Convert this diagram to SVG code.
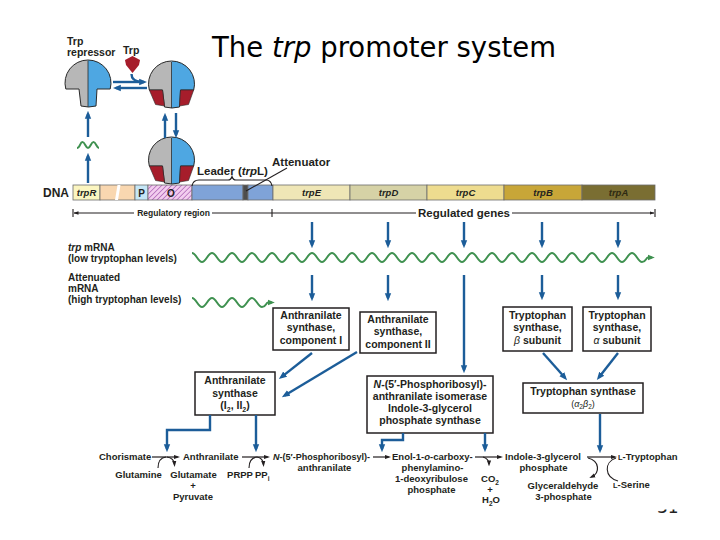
<svg xmlns="http://www.w3.org/2000/svg" width="720" height="540" viewBox="0 0 720 540">
<style>
.t{font-family:"Liberation Sans",Arial,sans-serif;font-weight:bold;fill:#231f20}
.n{font-weight:normal}
.i{font-style:italic}
.c{text-anchor:middle}
.box{fill:#fff;stroke:#231f20;stroke-width:1.5}
.ba{stroke:#1c5d99;stroke-width:2.4;fill:none;marker-end:url(#ab)}
.bl{stroke:#1c5d99;stroke-width:2.4;fill:none}
.ka{stroke:#231f20;stroke-width:1.2;fill:none;marker-end:url(#ak)}
.kl{stroke:#231f20;stroke-width:1.1;fill:none}
.gr{stroke:#3f9150;stroke-width:2;fill:none}
.seg{stroke:#6b6b6b;stroke-width:0.8}
</style>
<defs>
<marker id="ab" viewBox="0 0 10 10" refX="6" refY="5" markerWidth="8" markerHeight="8" markerUnits="userSpaceOnUse" orient="auto"><path d="M0,1 L10,5 L0,9 Z" fill="#1c5d99"/></marker>
<marker id="ak" viewBox="0 0 10 10" refX="6" refY="5" markerWidth="6" markerHeight="6" markerUnits="userSpaceOnUse" orient="auto"><path d="M0,1.5 L10,5 L0,8.5 Z" fill="#231f20"/></marker>
<marker id="ag" viewBox="0 0 10 10" refX="6" refY="5" markerWidth="7" markerHeight="7" markerUnits="userSpaceOnUse" orient="auto"><path d="M0,1 L10,5 L0,9 Z" fill="#3f9150"/></marker>
<marker id="as" viewBox="0 0 10 10" refX="9" refY="5" markerWidth="5" markerHeight="5" markerUnits="userSpaceOnUse" orient="auto"><path d="M0,1.5 L10,5 L0,8.5 Z" fill="#231f20"/></marker>
<pattern id="hatch" width="3.5" height="3.5" patternUnits="userSpaceOnUse" patternTransform="rotate(45)"><rect width="3.5" height="3.5" fill="#f3cdef"/><line x1="0" y1="0" x2="0" y2="3.5" stroke="#9b4aa8" stroke-width="1.2"/></pattern>
<clipPath id="rc"><path d="M-22.2,5 A23,23 0 1 1 22.2,5 L9,5 L8,22 Q0.5,24 -7,22 L-9,5 Z"/></clipPath>
<g id="rep">
<g clip-path="url(#rc)"><rect x="-25" y="-25" width="25" height="50" fill="#b7b7b7"/><rect x="0" y="-25" width="25" height="50" fill="#4ea7e2"/></g>
<line x1="0" y1="-23" x2="0" y2="23" stroke="#2a2a2a" stroke-width="0.8"/>
<path d="M-22.2,5 A23,23 0 1 1 22.2,5 L9,5 L8,22 Q0.5,24 -7,22 L-9,5 Z" fill="none" stroke="#2a2a2a" stroke-width="1"/>
</g>
<g id="repB">
<use href="#rep"/>
<path d="M-22.2,5 L-9,5 L-7,21 L-16,19.5 Z" fill="#a61d2b" stroke="#2a2a2a" stroke-width="0.6"/>
<path d="M9,5 L22.2,5 L17,19.5 L8,21 Z" fill="#a61d2b" stroke="#2a2a2a" stroke-width="0.6"/>
</g>
</defs>
<rect width="720" height="540" fill="#fff"/>
<text x="657" y="513" font-family="DejaVu Sans, sans-serif" font-size="17" fill="#222">31</text>
<rect x="640" y="488" width="60" height="21.5" fill="#fff"/>

<text id="title" x="212" y="57" font-family="DejaVu Sans, sans-serif" font-size="27.5" fill="#000">The <tspan font-style="italic">trp</tspan> promoter system</text>

<g id="dna">
<rect x="73" y="185" width="27" height="15" fill="#fbf5c0" class="seg"/>
<rect x="100" y="185" width="35" height="15" fill="#f9d7b0" class="seg"/>
<polygon points="115,200 117.5,185 120.5,185 118,200" fill="#fff"/>
<rect x="135" y="185" width="13" height="15" fill="#c5e6f6" class="seg"/>
<rect x="148" y="185" width="44" height="15" fill="url(#hatch)" class="seg"/>
<rect x="192" y="185" width="51" height="15" fill="#7fa3d8" class="seg"/>
<rect x="243" y="185" width="5" height="15" fill="#4d4d4d" class="seg"/>
<rect x="248" y="185" width="25" height="15" fill="#7fa3d8" class="seg"/>
<rect x="273" y="185" width="77" height="15" fill="#efe6b6" class="seg"/>
<rect x="350" y="185" width="77" height="15" fill="#d6d2a6" class="seg"/>
<rect x="427" y="185" width="77" height="15" fill="#eedc8f" class="seg"/>
<rect x="504" y="185" width="78" height="15" fill="#c8a638" class="seg"/>
<rect x="582" y="185" width="73" height="15" fill="#7a6e32" class="seg"/>
<text class="t" x="43" y="197" font-size="12">DNA</text>
<text class="t i c" x="86.5" y="196" font-size="9.5">trpR</text>
<text class="t c" x="141.5" y="196.5" font-size="10">P</text>
<text class="t c" x="171" y="197" font-size="10">O</text>
<text class="t i c" x="311.5" y="196" font-size="9.5">trpE</text>
<text class="t i c" x="388.5" y="196" font-size="9.5">trpD</text>
<text class="t i c" x="465.5" y="196" font-size="9.5">trpC</text>
<text class="t i c" x="543" y="196" font-size="9.5">trpB</text>
<text class="t i c" x="618.5" y="196" font-size="9.5" style="fill:#2e2a12">trpA</text>
<path d="M192,186 Q193,180 199,180 L228,180 Q231,180 232,176.5 Q233,180 236,180 L266,180 Q271,180 272,186" class="kl"/>
<text class="t" x="197" y="175" font-size="11.5">Leader (<tspan class="i">trp</tspan>L)</text>
<line x1="246" y1="191" x2="287" y2="168" class="kl"/>
<text class="t" x="272" y="166" font-size="11.5">Attenuator</text>
</g>

<g id="regions">
<line x1="134" y1="213" x2="74" y2="213" class="kl" marker-end="url(#as)"/>
<line x1="212" y1="213" x2="416" y2="213" class="kl"/>
<line x1="512" y1="213" x2="654" y2="213" class="kl" marker-end="url(#as)"/>
<path d="M73,209 V217 M272,209 V217 M655,209 V217" class="kl"/>
<text class="t c" x="173.5" y="216" font-size="8.5">Regulatory region</text>
<text class="t c" x="464" y="217" font-size="11.5">Regulated genes</text>
</g>

<g id="repressor-free"><use href="#rep" transform="translate(88,84)"/></g>
<g id="repressor-trp"><use href="#repB" transform="translate(171.5,85)"/></g>
<g id="repressor-dna"><use href="#repB" transform="translate(171.5,161)"/></g>
<g id="trp-ligand"><path d="M125,60 L132.5,56 L140,60 L139,65 L132.5,73 L126,65 Z" fill="#a61d2b"/></g>
<g id="labels-top">
<text class="t" x="67" y="45" font-size="10.5">Trp</text>
<text class="t" x="67" y="56" font-size="10.5">repressor</text>
<text class="t" x="123" y="54" font-size="10.5">Trp</text>
</g>

<g id="mrna">
<path class="gr" d="M77,148 c3,0 3,-6 5.5,-6 s3,6 5.5,6 s3,-6 5.5,-6 s3,6 5.5,6"/>
<path class="gr" marker-end="url(#ag)" d="M192,253 c4,0 6,9 10,9 s6,-9 10,-9 s6,9 10,9 s6,-9 10,-9 s6,9 10,9 s6,-9 10,-9 s6,9 10,9 s6,-9 10,-9 s6,9 10,9 s6,-9 10,-9 s6,9 10,9 s6,-9 10,-9 s6,9 10,9 s6,-9 10,-9 s6,9 10,9 s6,-9 10,-9 s6,9 10,9 s6,-9 10,-9 s6,9 10,9 s6,-9 10,-9 s6,9 10,9 s6,-9 10,-9 s6,9 10,9 s6,-9 10,-9 s6,9 10,9 s6,-9 10,-9 s6,9 10,9 s6,-9 10,-9 s6,9 10,9 s6,-9 10,-9 s6,9 10,9 s6,-9 10,-9 s6,9 10,9 s6,-9 10,-9 s6,9 10,9 s6,-9 10,-9 s6,9 10,9 s6,-9 10,-9 s6,9 10,9 s6,-9 10,-9 s6,9 10,9 s6,-9 10,-9 s6,9 10,9 s6,-9 10,-9 s6,9 10,9 s4,-4.5 6,-4.5 l4,0"/>
<path class="gr" marker-end="url(#ag)" d="M192,298 c4,0 6,9 10,9 s6,-9 10,-9 s6,9 10,9 s6,-9 10,-9 s6,9 10,9 s6,-9 10,-9 s6,9 10,9 s4,-4.5 6,-4.5 l4,0"/>
<text class="t" x="68" y="251" font-size="10"><tspan class="i">trp</tspan> mRNA</text>
<text class="t" x="68" y="262" font-size="10">(low tryptophan levels)</text>
<text class="t" x="68" y="281" font-size="10">Attenuated</text>
<text class="t" x="68" y="292" font-size="10">mRNA</text>
<text class="t" x="68" y="303" font-size="10">(high tryptophan levels)</text>
</g>

<g id="box-asI">
<rect class="box" x="273" y="308" width="76" height="42"/>
<text class="t c" font-size="10.5"><tspan x="311" y="318.5">Anthranilate</tspan><tspan x="311" y="331">synthase,</tspan><tspan x="311" y="343.5">component I</tspan></text>
</g>
<g id="box-asII">
<rect class="box" x="360" y="312" width="76" height="41"/>
<text class="t c" font-size="10.5"><tspan x="398" y="322.5">Anthranilate</tspan><tspan x="398" y="335">synthase,</tspan><tspan x="398" y="347.5">component II</tspan></text>
</g>
<g id="box-tsb">
<rect class="box" x="503" y="307" width="69" height="44"/>
<text class="t c" font-size="10.5"><tspan x="537.5" y="318.5">Tryptophan</tspan><tspan x="537.5" y="331">synthase,</tspan><tspan x="537.5" y="343.5"><tspan class="i n">β</tspan> subunit</tspan></text>
</g>
<g id="box-tsa">
<rect class="box" x="583" y="307" width="68" height="44"/>
<text class="t c" font-size="10.5"><tspan x="617" y="318.5">Tryptophan</tspan><tspan x="617" y="331">synthase,</tspan><tspan x="617" y="343.5"><tspan class="i n">α</tspan> subunit</tspan></text>
</g>
<g id="box-as">
<rect class="box" x="195" y="372" width="80" height="43"/>
<text class="t c" font-size="10.5"><tspan x="235" y="384">Anthranilate</tspan><tspan x="235" y="396.5">synthase</tspan><tspan x="235" y="409">(I<tspan font-size="7" dy="2.5">2</tspan><tspan dy="-2.5">, II</tspan><tspan font-size="7" dy="2.5">2</tspan><tspan dy="-2.5">)</tspan></tspan></text>
</g>
<g id="box-prai">
<rect class="box" x="367" y="376" width="126" height="57"/>
<text class="t c" font-size="10.5"><tspan x="430" y="388"><tspan class="i">N</tspan>-(5′-Phosphoribosyl)-</tspan><tspan x="430" y="400">anthranilate isomerase</tspan><tspan x="430" y="412">Indole-3-glycerol</tspan><tspan x="430" y="424">phosphate synthase</tspan></text>
</g>
<g id="box-ts">
<rect class="box" x="523" y="383" width="120" height="30"/>
<text class="t c" x="583" y="395" font-size="10.5">Tryptophan synthase</text>
<text class="t n c" x="583" y="407" font-size="9">(<tspan class="i">α</tspan><tspan font-size="6.5" dy="2">2</tspan><tspan class="i" dy="-2">β</tspan><tspan font-size="6.5" dy="2">2</tspan><tspan dy="-2">)</tspan></text>
</g>

<g id="pathway-text" font-size="9.5">
<text class="t" x="99" y="460" font-size="9.5">Chorismate</text>
<text class="t" x="183" y="460" font-size="9.5">Anthranilate</text>
<text class="t" x="273" y="460" font-size="9.5" textLength="97" lengthAdjust="spacingAndGlyphs"><tspan class="i">N</tspan>-(5′-Phosphoribosyl)-</text>
<text class="t c" x="324.5" y="471" font-size="9.5">anthranilate</text>
<text class="t c" x="138.5" y="478" font-size="9.5">Glutamine</text>
<text class="t c" x="193.5" y="478" font-size="9.5">Glutamate</text>
<text class="t c" x="193" y="489" font-size="9.5">+</text>
<text class="t c" x="193" y="500" font-size="9.5">Pyruvate</text>
<text class="t c" x="240" y="478" font-size="9.5">PRPP</text>
<text class="t" x="255" y="478" font-size="9.5">PP<tspan font-size="6.5" dy="2.5">i</tspan></text>
<text class="t" x="392" y="460" font-size="9.5">Enol-1-<tspan class="i">o</tspan>-carboxy-</text>
<text class="t c" x="432.5" y="471" font-size="9.5">phenylamino-</text>
<text class="t c" x="431.5" y="482" font-size="9.5">1-deoxyribulose</text>
<text class="t c" x="431.5" y="493" font-size="9.5">phosphate</text>
<text class="t c" x="490" y="482" font-size="9.5">CO<tspan font-size="6.5" dy="2.5">2</tspan></text>
<text class="t c" x="490" y="492.5" font-size="9.5">+</text>
<text class="t c" x="491" y="503" font-size="9.5">H<tspan font-size="6.5" dy="2.5">2</tspan><tspan dy="-2.5">O</tspan></text>
<text class="t" x="505" y="460" font-size="9.5">Indole-3-glycerol</text>
<text class="t c" x="543.5" y="471" font-size="9.5">phosphate</text>
<text class="t c" x="563" y="489" font-size="9.5">Glyceraldehyde</text>
<text class="t c" x="563.5" y="500" font-size="9.5">3-phosphate</text>
<text class="t" x="618" y="460" font-size="9.5"><tspan font-size="7.5">L</tspan>-Tryptophan</text>
<text class="t" x="613" y="488" font-size="9.5"><tspan font-size="7.5">L</tspan>-Serine</text>
</g>

<g id="connectors">
<path class="ba" d="M113,82 H144"/>
<path class="ba" d="M147,88 H116"/>
<path class="bl" d="M131.5,74 Q131.5,81 141,82" stroke-width="2"/>
<path class="ba" d="M165,138 V116"/>
<path class="ba" d="M176,113 V135"/>
<path class="ba" d="M88,183 V156"/>
<path class="ba" d="M88,137 V114"/>
<path class="ba" d="M312,222 V245"/>
<path class="ba" d="M388,222 V245"/>
<path class="ba" d="M464,222 V245"/>
<path class="ba" d="M542,222 V245"/>
<path class="ba" d="M618,222 V245"/>
<path class="ba" d="M312,275 V298"/>
<path class="ba" d="M388,275 V298"/>
<path class="ba" d="M464,275 V370"/>
<path class="ba" d="M542,275 V297"/>
<path class="ba" d="M618,275 V297"/>
<path class="ba" d="M312,353 L281.4,377.1"/>
<path class="ba" d="M357,352 L284.6,395.5"/>
<path class="ba" d="M543,353 L565,377.8"/>
<path class="ba" d="M618,353 L598.8,377.6"/>
<path class="ba" d="M600,414 V450"/>
<path class="ba" d="M210,415 V430 H167 V449"/>
<path class="ba" d="M256,415 V449"/>
<path class="ba" d="M403,433 V440 H382 V449"/>
<path class="ba" d="M485,433 V449"/>
<path class="ka" d="M152,457 H177.6"/>
<path class="ka" d="M242,457 H267.6"/>
<path class="ka" d="M373,457 H388.6"/>
<path class="ka" d="M475,457 H500.6"/>
<path class="ka" d="M587,457 H614.6"/>
<path class="kl" d="M158,468 Q158,458 166,457"/>
<path class="ka" d="M167,457 Q174,458 174.5,464.5"/>
<path class="kl" d="M249,468 Q249,458 257,457"/>
<path class="ka" d="M257,457 Q263,458 263.5,464.5"/>
<path class="ka" d="M483,457 Q489,459 489,464"/>
<path class="ka" d="M588,458 C600,461 600,473 591.5,477"/>
<path class="kl" d="M618,481 C604,477 604,462 616,458"/>
</g>
</svg>
